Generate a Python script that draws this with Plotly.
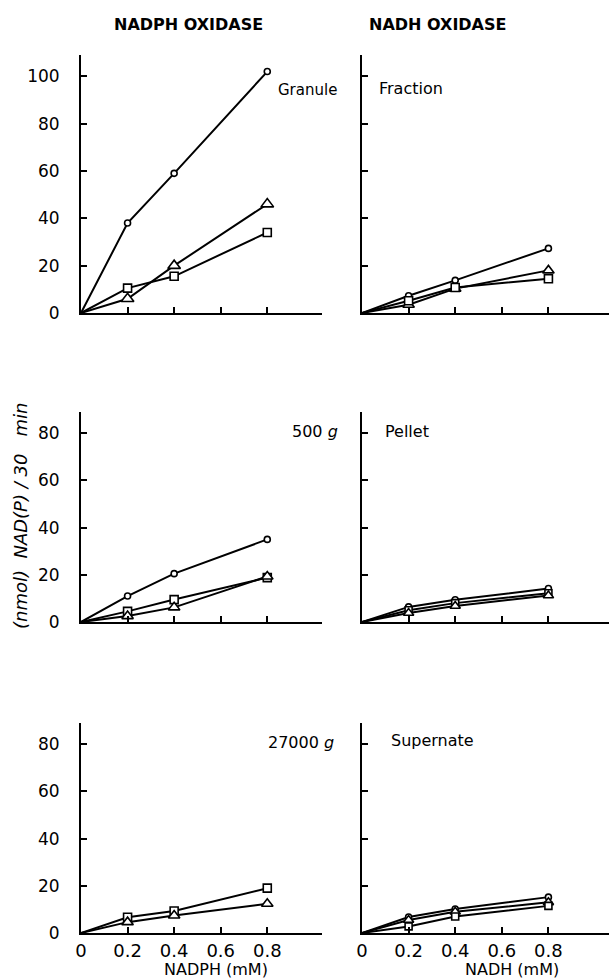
import plotly.graph_objects as go

W, H = 609, 980

# ---- data ----
conc = [0, 0.2, 0.4, 0.8]

# NADPH oxidase (left column)
granule_nadph_circle = [0, 38, 59, 102]
granule_nadph_triangle = [0, 6, 20, 46]
granule_nadph_square = [0, 10.5, 15.5, 34]

p500_nadph_circle = [0, 11, 20.5, 35]
p500_nadph_square = [0, 4.5, 9.5, 18.8]
p500_nadph_triangle = [0, 2.5, 6.2, 19.3]

s27000_nadph_square = [0, 6.7, 9.3, 19]
s27000_nadph_triangle = [0, 4.6, 7.4, 12.4]

# NADH oxidase (right column)
granule_nadh_circle = [0, 7.3, 13.8, 27.3]
granule_nadh_triangle = [0, 3.5, 10.3, 18]
granule_nadh_square = [0, 5.2, 10.8, 14.5]

pellet_nadh_circle = [0, 6.4, 9.4, 14.2]
pellet_nadh_square = [0, 5.0, 8.0, 12.2]
pellet_nadh_triangle = [0, 3.8, 6.8, 11.2]

super_nadh_circle = [0, 6.8, 10.2, 15.2]
super_nadh_triangle = [0, 5.5, 9.0, 13.0]
super_nadh_square = [0, 2.8, 7.0, 11.5]

x_tick_vals = [0, 0.2, 0.4, 0.6, 0.8]
x_tick_text = ["0", "0.2", "0.4", "0.6", "0.8"]
y_tick_vals_top = [0, 20, 40, 60, 80, 100]
y_tick_vals = [0, 20, 40, 60, 80]

col_titles = ["NADPH OXIDASE", "NADH OXIDASE"]
x_titles = ["NADPH (mM)", "NADH (mM)"]
y_title = "(nmol)  NAD(P) / 30   min"
panel_labels_left = ["Granule", "500 <i>g</i>", "27000 <i>g</i>"]
panel_labels_right = ["Fraction", "Pellet", "Supernate"]

# ---- layout geometry (pixels) ----
def px(x):
    return x / W

def py(y):
    return 1 - y / H

col_x = [(81, 322), (362, 609)]
row_y = [(55, 313), (412, 622), (723, 933)]
y_ranges = [[0, 109], [0, 89], [0, 89]]
x_ranges = [[0, 1.035], [0, 1.06]]

FONT = "DejaVu Sans"

panels = [
    (0, 0, [(granule_nadph_circle, "circle", 6), (granule_nadph_triangle, "triangle-up", 11), (granule_nadph_square, "square", 8)]),
    (0, 1, [(granule_nadh_circle, "circle", 6), (granule_nadh_triangle, "triangle-up", 10), (granule_nadh_square, "square", 8)]),
    (1, 0, [(p500_nadph_circle, "circle", 6), (p500_nadph_square, "square", 8), (p500_nadph_triangle, "triangle-up", 10)]),
    (1, 1, [(pellet_nadh_circle, "circle", 6), (pellet_nadh_square, "square", 7), (pellet_nadh_triangle, "triangle-up", 9)]),
    (2, 0, [(s27000_nadph_square, "square", 8), (s27000_nadph_triangle, "triangle-up", 10)]),
    (2, 1, [(super_nadh_circle, "circle", 6), (super_nadh_triangle, "triangle-up", 9), (super_nadh_square, "square", 7)]),
]

fig = go.Figure()
layout = {}

for i, (r, c, series) in enumerate(panels):
    n = i + 1
    xa = "x" if n == 1 else f"x{n}"
    ya = "y" if n == 1 else f"y{n}"
    for vals, sym, size in series:
        fig.add_trace(go.Scatter(x=conc, y=vals, mode="lines",
                                 line=dict(color="black", width=2),
                                 xaxis=xa, yaxis=ya, showlegend=False, hoverinfo="skip"))
        fig.add_trace(go.Scatter(x=conc[1:], y=vals[1:], mode="markers",
                                 marker=dict(symbol=sym, size=size, color="white",
                                             line=dict(color="black", width=1.6)),
                                 xaxis=xa, yaxis=ya, showlegend=False, hoverinfo="skip"))
    x0, x1 = col_x[c]
    y0, y1 = row_y[r]
    bottom = (r == 2)
    xkey = "xaxis" if n == 1 else f"xaxis{n}"
    ykey = "yaxis" if n == 1 else f"yaxis{n}"
    layout[xkey] = dict(
        domain=[px(x0), px(x1)], anchor=ya, range=x_ranges[c],
        showline=True, linecolor="black", linewidth=2,
        ticks="inside", ticklen=6, tickwidth=2, tickcolor="black",
        tickvals=x_tick_vals if bottom else x_tick_vals[1:],
        ticktext=x_tick_text if bottom else None,
        showticklabels=bottom, showgrid=False, zeroline=False,
        tickfont=dict(family=FONT, size=18, color="black"),
        automargin=False, fixedrange=True,
    )
    yt = y_tick_vals_top if r == 0 else y_tick_vals
    layout[ykey] = dict(
        domain=[py(y1), py(y0)], anchor=xa, range=y_ranges[r],
        showline=True, linecolor="black", linewidth=2,
        ticks="inside", ticklen=6, tickwidth=2, tickcolor="black",
        tickvals=yt, showticklabels=(c == 0),
        showgrid=False, zeroline=False,
        tickfont=dict(family=FONT, size=17, color="black"),
        ticklabelstandoff=16,
        automargin=False, fixedrange=True,
    )

annotations = []
def ann(text, x, y, size=14, bold=False, angle=0, xanchor="center", family=FONT):
    annotations.append(dict(text=f"<b>{text}</b>" if bold else text,
                            x=px(x), y=py(y), xref="paper", yref="paper",
                            showarrow=False, xanchor=xanchor, yanchor="middle",
                            textangle=angle,
                            font=dict(family=family, size=size, color="black")))

ann(col_titles[0], 188, 25, size=16, bold=True)
ann(col_titles[1], 437, 25, size=16, bold=True)
ann(x_titles[0], 216, 969, size=16)
ann(x_titles[1], 512, 969, size=16)
ann("<i>" + y_title + "</i>", 20, 516, size=18, angle=-90)

ann(panel_labels_left[0], 307, 90, size=15)
ann(panel_labels_left[1], 315, 432, size=16)
ann(panel_labels_left[2], 301, 742, size=16)
ann(panel_labels_right[0], 411, 89, size=16)
ann(panel_labels_right[1], 407, 432, size=16)
ann(panel_labels_right[2], 432, 740, size=16)

fig.update_layout(
    **layout,
    annotations=annotations,
    template="none",
    width=W, height=H,
    margin=dict(l=0, r=0, t=0, b=0, pad=0),
    paper_bgcolor="white", plot_bgcolor="white",
    showlegend=False,
    font=dict(family=FONT, color="black"),
)

fig.write_html("out.html", include_plotlyjs=True, full_html=True,
               config=dict(displayModeBar=False, staticPlot=True),
               post_script="document.body.style.margin='0';document.body.style.padding='0';document.body.style.overflow='hidden';")
